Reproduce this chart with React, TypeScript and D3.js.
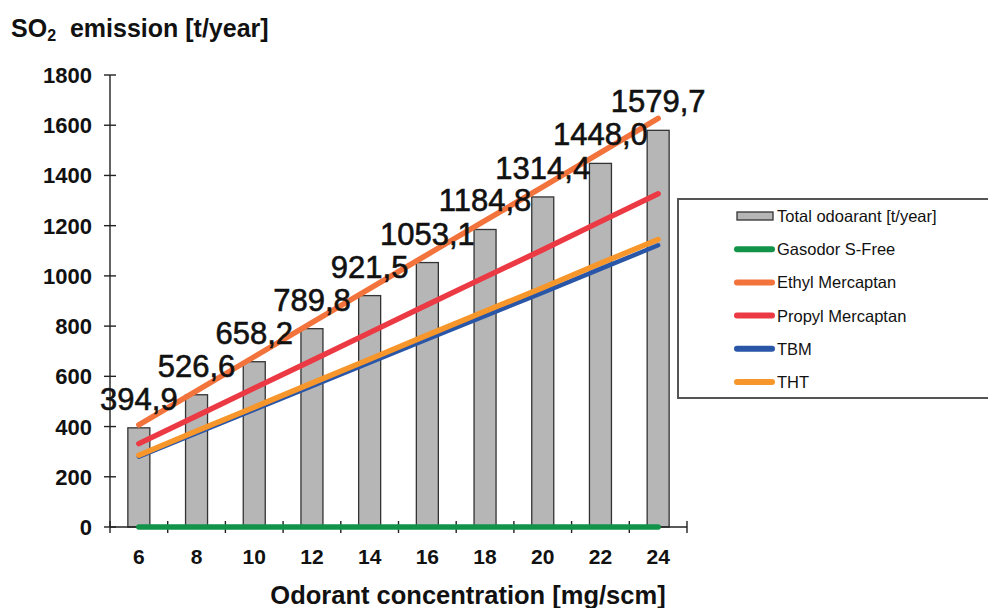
import React from 'react';
import * as d3 from 'd3';

// Odorant concentration [mg/scm]
const concentrations: string[] = ['6', '8', '10', '12', '14', '16', '18', '20', '22', '24'];

// Total odoarant [t/year] (bars)
const totalOdorant: number[] = [394.9, 526.6, 658.2, 789.8, 921.5, 1053.1, 1184.8, 1314.4, 1448.0, 1579.7];

// SO2 emission lines [t/year]
const gasodor: number[] = [0, 0, 0, 0, 0, 0, 0, 0, 0, 0];
const ethyl: number[] = [407, 542, 678, 814, 949, 1085, 1220, 1354, 1491, 1627];
const propyl: number[] = [332, 442, 553, 663, 774, 885, 995, 1104, 1216, 1327];
const tbm: number[] = [280, 374, 467, 561, 654, 748, 841, 933, 1028, 1122];
const tht: number[] = [286, 382, 477, 573, 668, 764, 859, 953, 1050, 1145];

const yTicks: number[] = [0, 200, 400, 600, 800, 1000, 1200, 1400, 1600, 1800];

const lineSeries = [
  { name: 'Gasodor S-Free', values: gasodor, color: '#12934a' },
  { name: 'Ethyl Mercaptan', values: ethyl, color: '#f2733c' },
  { name: 'Propyl Mercaptan', values: propyl, color: '#ec3a45' },
  { name: 'TBM', values: tbm, color: '#2a56a8' },
  { name: 'THT', values: tht, color: '#f7962a' },
];

const FONT = "'Liberation Sans', Arial, sans-serif";

const App = () => {
  const width = 988;
  const height = 608;
  const plot = { left: 110, right: 687, top: 75, bottom: 527 };

  const x = d3
    .scaleBand<string>()
    .domain(concentrations)
    .range([plot.left, plot.right])
    .paddingInner(0)
    .paddingOuter(0);

  const y = d3.scaleLinear().domain([0, 1800]).range([plot.bottom, plot.top]);

  const cx = (i: number) => (x(concentrations[i]) ?? 0) + x.bandwidth() / 2;
  const barW = 22;

  const line = d3
    .line<number>()
    .x((_, i) => cx(i))
    .y((d) => y(d));

  // category boundaries for x ticks
  const xTickPos = concentrations.map((c) => x(c) ?? 0).concat([plot.right]);

  const legendX = 678;
  const legendY = 199;
  const rowY = (i: number) => legendY + 17 + i * 33.2;

  return (
    <div style={{ position: 'absolute', left: 0, top: 0 }}>
      <svg width={width} height={height} style={{ display: 'block', fontFamily: FONT }}>
        <rect width={width} height={height} fill="#fff" />

        {/* Title */}
        <text x={11} y={37} fontSize={25} fontWeight="bold" fill="#111">
          SO
          <tspan fontSize={16} dy={4}>2</tspan>
          <tspan dy={-4}>{'\u00a0 emission [t/year]'}</tspan>
        </text>

        {/* Bars */}
        {totalOdorant.map((v, i) => (
          <rect
            key={'bar' + i}
            x={cx(i) - barW / 2}
            y={y(v)}
            width={barW}
            height={y(0) - y(v)}
            fill="#b6b6b6"
            stroke="#333"
            strokeWidth={1.3}
          />
        ))}

        {/* Y axis */}
        <line x1={plot.left} x2={plot.left} y1={plot.top} y2={plot.bottom} stroke="#222" strokeWidth={1.4} />
        {yTicks.map((t) => (
          <g key={'yt' + t}>
            <line x1={plot.left - 6} x2={plot.left + 6} y1={y(t)} y2={y(t)} stroke="#222" strokeWidth={1.4} />
            <text x={92} y={y(t) + 8} textAnchor="end" fontSize={22} fontWeight="bold" fill="#111">
              {t}
            </text>
          </g>
        ))}

        {/* X axis */}
        <line x1={plot.left} x2={plot.right} y1={plot.bottom} y2={plot.bottom} stroke="#222" strokeWidth={1.4} />
        {xTickPos.map((p, i) => (
          <line key={'xt' + i} x1={p} x2={p} y1={plot.bottom - 6} y2={plot.bottom + 6} stroke="#222" strokeWidth={1.4} />
        ))}
        {concentrations.map((c, i) => (
          <text key={'xl' + c} x={cx(i)} y={564} textAnchor="middle" fontSize={21} fontWeight="bold" fill="#111">
            {c}
          </text>
        ))}

        {/* Lines */}
        {lineSeries.map((s) => (
          <path
            key={s.name}
            d={line(s.values) ?? ''}
            fill="none"
            stroke={s.color}
            strokeWidth={s.name === 'TBM' ? 4.5 : 5.5}
            strokeLinecap="round"
          />
        ))}

        {/* Bar value labels */}
        {totalOdorant.map((v, i) => (
          <text
            key={'vl' + i}
            x={cx(i)}
            y={y(v) - 18}
            textAnchor="middle"
            fontSize={31}
            fill="#111"
            stroke="#111"
            strokeWidth={0.6}
          >
            {v.toFixed(1).replace('.', ',')}
          </text>
        ))}

        {/* X axis title */}
        <text x={468} y={604} textAnchor="middle" fontSize={25.5} fontWeight="bold" fill="#111">
          Odorant concentration [mg/scm]
        </text>

        {/* Legend */}
        <rect x={legendX} y={legendY} width={330} height={199} fill="#fff" stroke="#555" strokeWidth={2} />
        <rect x={737} y={rowY(0) - 4} width={36} height={8} fill="#b6b6b6" stroke="#333" strokeWidth={1.3} />
        <text x={777} y={rowY(0) + 6} fontSize={16.5} fill="#111">
          Total odoarant [t/year]
        </text>
        {lineSeries.map((s, i) => (
          <g key={'lg' + s.name}>
            <line x1={737} x2={772} y1={rowY(i + 1)} y2={rowY(i + 1)} stroke={s.color} strokeWidth={6} strokeLinecap="round" />
            <text x={777} y={rowY(i + 1) + 6} fontSize={16.5} fill="#111">
              {s.name}
            </text>
          </g>
        ))}
      </svg>
    </div>
  );
};

export default App;
